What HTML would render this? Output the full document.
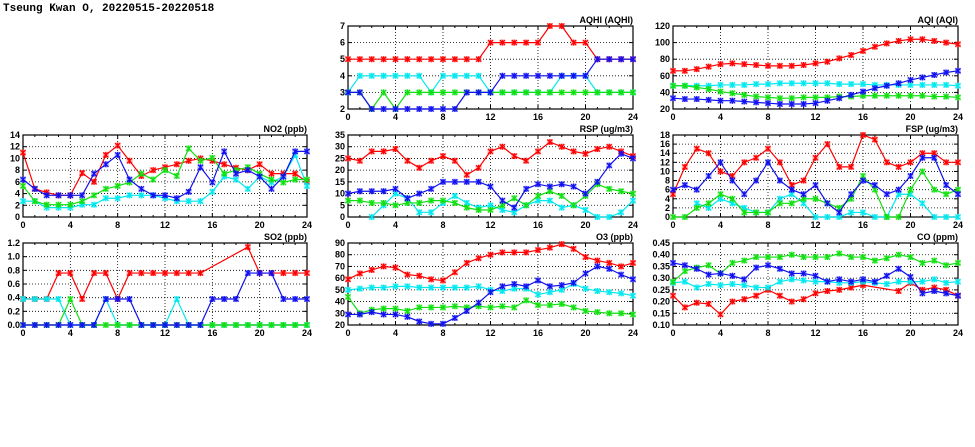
<!DOCTYPE html>
<html><head><meta charset="utf-8"><style>
body{margin:0;background:#fff;width:975px;height:447px;overflow:hidden}
svg{display:block}
text{font-family:"Liberation Sans",sans-serif;font-weight:bold;font-size:9px;fill:#000}
</style></head><body>
<svg id="c" width="975" height="447">
<text x="3" y="11" style="font-family:'Liberation Mono',monospace;font-size:11px">Tseung Kwan O, 20220515-20220518</text>
</svg>
<script>
const hours=[0,1,2,3,4,5,6,7,8,9,10,11,12,13,14,15,16,17,18,19,20,21,22,23,24];
const N=null;
const aqhiRed=[5,5,5,5,5,5,5,5,5,5,5,5,6,6,6,6,6,7,7,6,6,5,5,5,5];
const aqhiCyan=[3,4,4,4,4,4,4,3,4,4,4,4,3,3,3,3,3,3,4,4,4,3,3,3,3];
const aqhiGreen=[3,3,2,3,2,3,3,3,3,3,3,3,3,3,3,3,3,3,3,3,3,3,3,3,3];
const aqhiBlue=[3,3,2,2,2,2,2,2,2,2,3,3,3,4,4,4,4,4,4,4,4,5,5,5,5];
const aqiRed=[66,66,68,71,74,75,74,73,72,72,72,73,75,77,81,85,90,95,99,102,104,104,102,100,98];
const aqiCyan=[48,48,48,48,49,49,49,50,50,51,51,51,51,51,50,50,50,49,49,49,49,49,49,49,48];
const aqiGreen=[48,48,46,44,41,39,37,35,34,33,33,34,34,34,35,35,36,36,36,36,36,36,35,35,34];
const aqiBlue=[33,32,32,31,30,30,29,28,27,26,26,26,27,30,33,37,41,45,48,51,55,58,61,64,66];
const no2Red=[11,4.8,4.2,3.7,3.7,7.5,6,10.6,12.2,9.6,7,8,8.5,9,9.6,10,9.6,9,8.4,8,9,7.4,7.4,7.4,6];
const no2Cyan=[2.7,2.7,1.6,1.6,1.6,2.1,2.1,3.2,3.2,3.7,3.7,3.7,3.2,2.7,2.7,2.7,4.3,6.9,6.4,4.8,6.9,5.9,6.9,10.6,5.3];
const no2Green=[5.3,2.7,2.1,2.1,2.1,2.7,3.7,4.8,5.3,5.9,7.4,6.4,8,7,11.7,9.6,10.1,7.4,8,8.5,7.4,6.4,5.9,6.4,6.4];
const no2Blue=[6.4,4.8,3.7,3.7,3.7,3.7,7.4,9,10.6,6.4,4.8,3.7,3.7,3.2,4.3,8.5,5.9,11.2,7.4,8,6.9,4.8,6.9,11.2,11.2];
const rspRed=[25,24,28,28,29,24,21,24,26,24,18,21,28,30,26,24,28,32,30,28,27,29,30,28,26];
const rspCyan=[N,N,0,5,10,8,2,2,6,9,6,4,5,3,2,5,7,7,4,5,3,0,0,2,7];
const rspGreen=[7,7,6,6,5,6,6,7,7,6,4,3,3,5,8,5,9,11,9,5,9,14,12,11,10];
const rspBlue=[10,11,11,11,12,8,10,12,15,15,15,15,13,7,4,12,14,13,14,13,10,15,22,27,25];
const fspRed=[5,11,15,14,10,9,12,13,15,12,7,8,13,16,11,11,18,17,12,11,12,14,14,12,12];
const fspCyan=[N,N,3,2,4,3,2,1,1,4,5,3,0,0,0,1,1,0,0,5,5,3,0,0,0];
const fspGreen=[0,0,2,3,5,4,1,1,1,3,3,4,4,3,2,4,9,6,0,0,6,10,6,5,6];
const fspBlue=[6,7,6,9,12,8,5,8,12,8,6,5,7,3,1,5,8,7,5,6,9,13,13,7,5];
const so2Red=[.38,.38,.38,.76,.76,.38,.76,.76,.38,.76,.76,.76,.76,.76,.76,.76,N,N,N,1.14,.76,.76,.76,.76,.76];
const so2Cyan=[.38,.38,.38,.38,0,0,0,.38,0,0,0,0,0,.38,0,0,0,0,0,0,0,0,0,0,0];
const so2Green=[0,0,0,0,.38,0,0,0,0,0,0,0,0,0,0,0,0,0,0,0,0,0,0,0,0];
const so2Blue=[0,0,0,0,0,0,0,.38,.38,.38,0,0,0,0,0,0,.38,.38,.38,.76,.76,.76,.38,.38,.38];
const o3Red=[59,64,67,70,69,63,62,59,58,65,73,77,80,82,82,82,84,86,89,85,78,75,73,70,73];
const o3Cyan=[50,51,52,52,53,53,52,52,52,52,52,53,50,49,51,51,46,48,50,55,51,49,48,47,45];
const o3Green=[44,30,33,34,34,32,35,35,35,36,35,36,35,36,35,41,37,37,38,35,32,31,30,30,29];
const o3Blue=[29,29,31,29,29,27,23,21,21,26,32,39,48,53,55,53,58,53,54,56,64,70,68,63,59];
const coRed=[.225,.175,.195,.19,.145,.2,.21,.225,.25,.225,.2,.21,.235,.245,.25,.26,.27,N,N,.245,.28,.25,.26,.25,.225];
const coCyan=[.28,.285,.26,.275,.27,.275,.27,.26,.26,.285,.295,.29,.285,.285,.28,.28,.285,.28,.275,.285,.285,.285,.295,.28,.285];
const coGreen=[.285,.33,.345,.355,.32,.365,.375,.39,.39,.39,.40,.39,.39,.39,.405,.39,.39,.375,.385,.40,.39,.365,.375,.355,.365];
const coBlue=[.365,.355,.34,.315,.32,.31,.295,.345,.355,.34,.32,.32,.31,.285,.295,.285,.295,.285,.31,.34,.305,.235,.245,.235,.225];
const xTicks=[0,4,8,12,16,20,24];

const NS="http://www.w3.org/2000/svg";
const svg=document.getElementById('c');
const COL={red:'#ff0000',cyan:'#00e8f0',green:'#10e010',blue:'#1010f0'};
const panels=[
 {name:'aqhi',title:'AQHI (AQHI)',x0:348,x1:633,y0:26,y1:109,min:2,max:7,step:1,dec:0,s:[['red',aqhiRed],['cyan',aqhiCyan],['green',aqhiGreen],['blue',aqhiBlue]]},
 {name:'aqi',title:'AQI (AQI)',x0:673,x1:958,y0:26,y1:109,min:20,max:120,step:20,dec:0,s:[['red',aqiRed],['cyan',aqiCyan],['green',aqiGreen],['blue',aqiBlue]]},
 {name:'no2',title:'NO2 (ppb)',x0:23,x1:307,y0:135,y1:217,min:0,max:14,step:2,dec:0,s:[['red',no2Red],['cyan',no2Cyan],['green',no2Green],['blue',no2Blue]]},
 {name:'rsp',title:'RSP (ug/m3)',x0:348,x1:633,y0:135,y1:217,min:0,max:35,step:5,dec:0,s:[['red',rspRed],['cyan',rspCyan],['green',rspGreen],['blue',rspBlue]]},
 {name:'fsp',title:'FSP (ug/m3)',x0:673,x1:958,y0:135,y1:217,min:0,max:18,step:2,dec:0,s:[['red',fspRed],['cyan',fspCyan],['green',fspGreen],['blue',fspBlue]]},
 {name:'so2',title:'SO2 (ppb)',x0:23,x1:307,y0:243,y1:325,min:0,max:1.2,step:0.2,dec:1,s:[['red',so2Red],['cyan',so2Cyan],['green',so2Green],['blue',so2Blue]]},
 {name:'o3',title:'O3 (ppb)',x0:348,x1:633,y0:243,y1:325,min:20,max:90,step:10,dec:0,s:[['red',o3Red],['cyan',o3Cyan],['green',o3Green],['blue',o3Blue]]},
 {name:'co',title:'CO (ppm)',x0:673,x1:958,y0:243,y1:325,min:0.10,max:0.45,step:0.05,dec:2,s:[['red',coRed],['cyan',coCyan],['green',coGreen],['blue',coBlue]]}
];
function mk(tag,attrs,parent){const e=document.createElementNS(NS,tag);for(const k in attrs)e.setAttribute(k,attrs[k]);(parent||svg).appendChild(e);return e;}
panels.forEach(p=>{
 const g=mk('g',{});
 
 
 const X=h=>p.x0+(p.x1-p.x0)*h/24;
 const Y=v=>p.y1-(p.y1-p.y0)*(v-p.min)/(p.max-p.min);
 const nT=Math.round((p.max-p.min)/p.step);
 for(let i=0;i<=nT;i++){
  const v=p.min+i*p.step,y=Y(v);
  if(i>0&&i<nT){const l=mk('line',{x1:p.x0,x2:p.x1,y1:y,y2:y,stroke:'#000','stroke-width':0.8,'stroke-dasharray':'1,2'},g);
   }
  mk('line',{x1:p.x0,x2:p.x0+4,y1:y,y2:y,stroke:'#000'},g);
  mk('line',{x1:p.x1-4,x2:p.x1,y1:y,y2:y,stroke:'#000'},g);
  const t=mk('text',{x:p.x0-3,y:y+3,'text-anchor':'end'},g);t.textContent=v.toFixed(p.dec);
  
 }
 for(let h=0;h<=24;h++){const x=X(h);const L=h%4==0?4:2;
  mk('line',{x1:x,x2:x,y1:p.y1,y2:p.y1-L,stroke:'#000'},g);mk('line',{x1:x,x2:x,y1:p.y0,y2:p.y0+L,stroke:'#000'},g);}
 xTicks.forEach(h=>{const x=X(h);
  if(h>0&&h<24){const l=mk('line',{x1:x,x2:x,y1:p.y0,y2:p.y1,stroke:'#000','stroke-width':0.8,'stroke-dasharray':'1,2'},g);
   }
  const t=mk('text',{x:x,y:p.y1+11,'text-anchor':'middle'},g);t.textContent=h;
  
 });
 const r=mk('rect',{x:p.x0,y:p.y0,width:p.x1-p.x0,height:p.y1-p.y0,fill:'none',stroke:'#000','stroke-width':1.2},g);
 
 const tt=mk('text',{x:p.x1,y:p.y0-3,'text-anchor':'end'},g);tt.textContent=p.title;
 
 p.s.forEach(([c,arr])=>{
  const pts=[];arr.forEach((v,i)=>{if(v!==null)pts.push([X(hours[i]),Y(v)]);});
  const pl=mk('polyline',{points:pts.map(q=>q.join(',')).join(' '),fill:'none',stroke:COL[c],'stroke-width':1.2},g);
  
  pts.forEach(([x,y])=>{
   const m=mk('g',{},g);
   
   mk('rect',{x:x-3,y:y-3,width:6,height:6,fill:COL[c],opacity:0.3},m);
   const d=`M${x-2.5},${y-2.5}L${x+2.5},${y+2.5}M${x-2.5},${y+2.5}L${x+2.5},${y-2.5}M${x},${y-3}L${x},${y+3}`;
   mk('path',{d:d,stroke:COL[c],'stroke-width':1.2,fill:'none'},m);
  });
 });
});
</script>
</body></html>
